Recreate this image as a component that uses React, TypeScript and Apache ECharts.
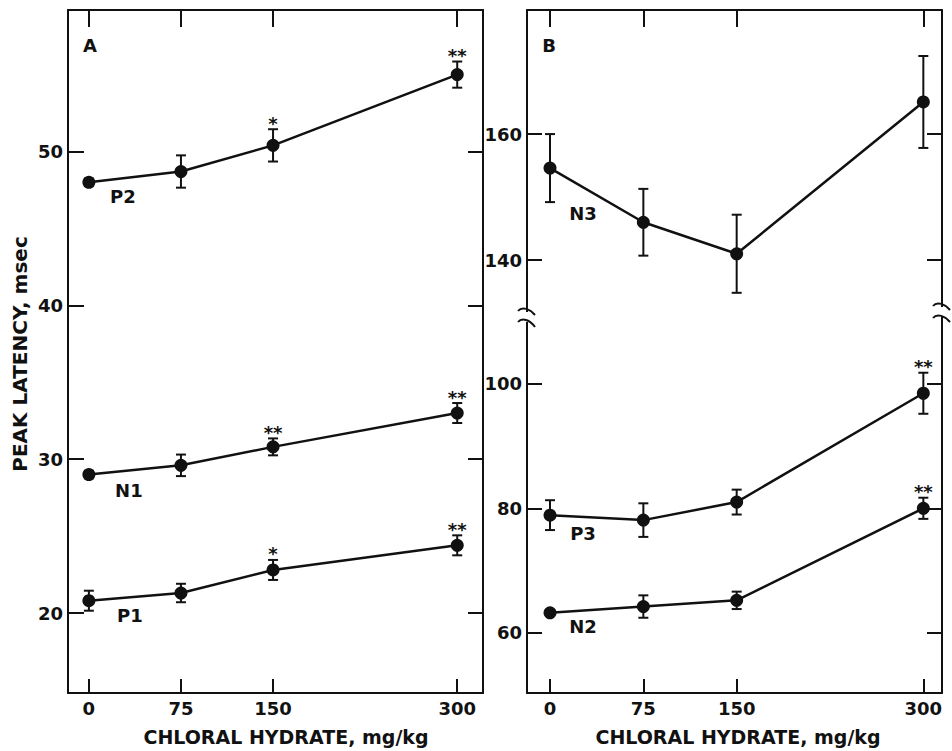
import React, { useEffect, useRef } from "react";
import * as echarts from "echarts";

const doses = [0, 75, 150, 300];
const xTicks = [0, 75, 150, 300];

// Panel A
const p2Mean = [48.0, 48.7, 50.4, 55.0];
const p2Err = [0.25, 1.05, 1.05, 0.85];
const p2Stars = ["", "", "*", "**"];
const n1Mean = [29.0, 29.6, 30.8, 33.0];
const n1Err = [0.25, 0.7, 0.55, 0.65];
const n1Stars = ["", "", "**", "**"];
const p1Mean = [20.8, 21.3, 22.8, 24.4];
const p1Err = [0.65, 0.6, 0.65, 0.65];
const p1Stars = ["", "", "*", "**"];
const aTicks = [20, 30, 40, 50];

// Panel B
const n3Mean = [154.6, 146.0, 141.0, 165.1];
const n3Err = [5.4, 5.3, 6.2, 7.3];
const n3Stars = ["", "", "", ""];
const p3Mean = [78.9, 78.1, 81.0, 98.5];
const p3Err = [2.4, 2.7, 2.0, 3.3];
const p3Stars = ["", "", "", "**"];
const n2Mean = [63.2, 64.2, 65.2, 80.0];
const n2Err = [0.4, 1.8, 1.4, 1.7];
const n2Stars = ["", "", "", "**"];
const bUpperTicks = [140, 160];
const bLowerTicks = [60, 80, 100];

const FONT = "DejaVu Sans";
const INK = "#111";

function lineSeries(name: string, means: number[], xi: number, yi: number, offset: number[]) {
  return {
    name,
    type: "line",
    xAxisIndex: xi,
    yAxisIndex: yi,
    symbol: "circle",
    symbolSize: 13,
    lineStyle: { color: INK, width: 2.5 },
    itemStyle: { color: INK },
    z: 3,
    data: doses.map((d, i) =>
      i === 0
        ? {
            value: [d, means[i]],
            label: {
              show: true,
              formatter: name,
              position: "inside",
              offset,
              color: INK,
              fontFamily: FONT,
              fontWeight: "bold",
              fontSize: 18,
            },
          }
        : { value: [d, means[i]] }
    ),
  };
}

function errSeries(means: number[], errs: number[], stars: string[], xi: number, yi: number) {
  return {
    type: "custom",
    xAxisIndex: xi,
    yAxisIndex: yi,
    z: 4,
    clip: false,
    encode: { x: 0, y: 1 },
    data: doses.map((d, i) => [d, means[i], errs[i]]),
    renderItem: (params: any, api: any) => {
      const x = api.value(0);
      const y = api.value(1);
      const e = api.value(2);
      const top = api.coord([x, y + e]);
      const bot = api.coord([x, y - e]);
      const cap = 5;
      const st = { stroke: INK, lineWidth: 2 };
      const children: any[] = [
        { type: "line", shape: { x1: top[0], y1: top[1], x2: bot[0], y2: bot[1] }, style: st },
        { type: "line", shape: { x1: top[0] - cap, y1: top[1], x2: top[0] + cap, y2: top[1] }, style: st },
        { type: "line", shape: { x1: bot[0] - cap, y1: bot[1], x2: bot[0] + cap, y2: bot[1] }, style: st },
      ];
      const s = stars[params.dataIndex];
      if (s) {
        children.push({
          type: "text",
          x: top[0],
          y: top[1] - 6,
          style: {
            text: s,
            fill: INK,
            font: `bold 18px "${FONT}"`,
            align: "center",
            verticalAlign: "middle",
            textAlign: "center",
            textVerticalAlign: "middle",
          },
        });
      }
      return { type: "group", children };
    },
  };
}

const axisLineStyle = { show: true, onZero: false, lineStyle: { color: INK, width: 2 } };
const labelStyle = { color: INK, fontFamily: FONT, fontWeight: "bold", fontSize: 18 };

function xAx(grid: number, pos: string, min: number, max: number, labels: boolean, len: number) {
  return {
    type: "value",
    gridIndex: grid,
    position: pos,
    min,
    max,
    axisLine: axisLineStyle,
    axisTick: { show: true, inside: true, length: len, customValues: xTicks, lineStyle: { color: INK, width: 2 } },
    axisLabel: labels ? { show: true, customValues: xTicks, margin: 6, ...labelStyle } : { show: false },
    splitLine: { show: false },
  };
}

function yAx(grid: number, pos: string, min: number, max: number, ticks: number[], labels: boolean, len: number) {
  return {
    type: "value",
    gridIndex: grid,
    position: pos,
    min,
    max,
    axisLine: axisLineStyle,
    axisTick: { show: true, inside: true, length: len, customValues: ticks, lineStyle: { color: INK, width: 2 } },
    axisLabel: labels ? { show: true, customValues: ticks, margin: 5, ...labelStyle } : { show: false },
    splitLine: { show: false },
  };
}

export default function App() {
  const ref = useRef<HTMLDivElement>(null);
  useEffect(() => {
    if (!ref.current) return;
    const chart = echarts.init(ref.current, undefined, { renderer: "svg" });
    const txt = (text: string, x: number, y: number, size = 18, extra: any = {}) => ({
      type: "text",
      x,
      y,
      z: 10,
      ...extra,
      style: {
        text,
        fill: INK,
        font: `bold ${size}px "${FONT}"`,
        textAlign: "center",
        textVerticalAlign: "middle",
        align: "center",
        verticalAlign: "middle",
      },
    });
    const bz = (x1: number, y1: number, c1x: number, c1y: number, c2x: number, c2y: number, x2: number, y2: number) => ({
      type: "bezierCurve",
      z: 11,
      shape: { x1, y1, cpx1: c1x, cpy1: c1y, cpx2: c2x, cpy2: c2y, x2, y2 },
      style: { stroke: INK, lineWidth: 2, fill: "none" },
    });
    chart.setOption({
      animation: false,
      backgroundColor: "#fff",
      grid: [
        { left: 68, top: 10, width: 415, height: 683 },
        { left: 527, top: 10, width: 415, height: 308 },
        { left: 527, top: 318, width: 415, height: 375 },
      ],
      xAxis: [
        xAx(0, "bottom", -17, 321, true, 14),
        xAx(0, "top", -17, 321, false, 17),
        xAx(1, "top", -18.5, 315, false, 17),
        xAx(2, "bottom", -18.5, 315, true, 14),
      ],
      yAxis: [
        yAx(0, "left", 14.8, 59.2, aTicks, true, 16),
        yAx(0, "right", 14.8, 59.2, aTicks, false, 15),
        yAx(1, "left", 130.8, 179.7, bUpperTicks, true, 15),
        yAx(1, "right", 130.8, 179.7, bUpperTicks, false, 15),
        yAx(2, "left", 50.3, 110.6, bLowerTicks, true, 15),
        yAx(2, "right", 50.3, 110.6, bLowerTicks, false, 15),
      ],
      series: [
        lineSeries("P2", p2Mean, 0, 0, [34, 14]),
        errSeries(p2Mean, p2Err, p2Stars, 0, 0),
        lineSeries("N1", n1Mean, 0, 0, [40, 16]),
        errSeries(n1Mean, n1Err, n1Stars, 0, 0),
        lineSeries("P1", p1Mean, 0, 0, [41, 15]),
        errSeries(p1Mean, p1Err, p1Stars, 0, 0),
        lineSeries("N3", n3Mean, 2, 2, [33, 45]),
        errSeries(n3Mean, n3Err, n3Stars, 2, 2),
        lineSeries("P3", p3Mean, 3, 4, [33, 18]),
        errSeries(p3Mean, p3Err, p3Stars, 3, 4),
        lineSeries("N2", n2Mean, 3, 4, [33, 14]),
        errSeries(n2Mean, n2Err, n2Stars, 3, 4),
      ],
      graphic: [
        txt("A", 90, 45),
        txt("B", 549, 45),
        txt("PEAK LATENCY, msec", 20, 354, 20, { rotation: Math.PI / 2 }),
        txt("CHLORAL HYDRATE, mg/kg", 286, 737, 19),
        txt("CHLORAL HYDRATE, mg/kg", 738, 737, 19),
        { type: "rect", z: 10, shape: { x: 521, y: 312, width: 12, height: 10 }, style: { fill: "#fff" } },
        { type: "rect", z: 10, shape: { x: 936, y: 307, width: 12, height: 10 }, style: { fill: "#fff" } },
        bz(518, 311, 522, 306, 530, 309, 535, 315),
        bz(518, 322, 522, 317, 530, 320, 535, 327),
        bz(933, 306, 937, 301, 945, 304, 950, 310),
        bz(933, 318, 937, 313, 945, 316, 950, 322),
      ],
    });
    return () => chart.dispose();
  }, []);
  return (
    <div
      ref={ref}
      style={{ position: "fixed", left: 0, top: 0, width: 952, height: 751, background: "#fff" }}
    />
  );
}
